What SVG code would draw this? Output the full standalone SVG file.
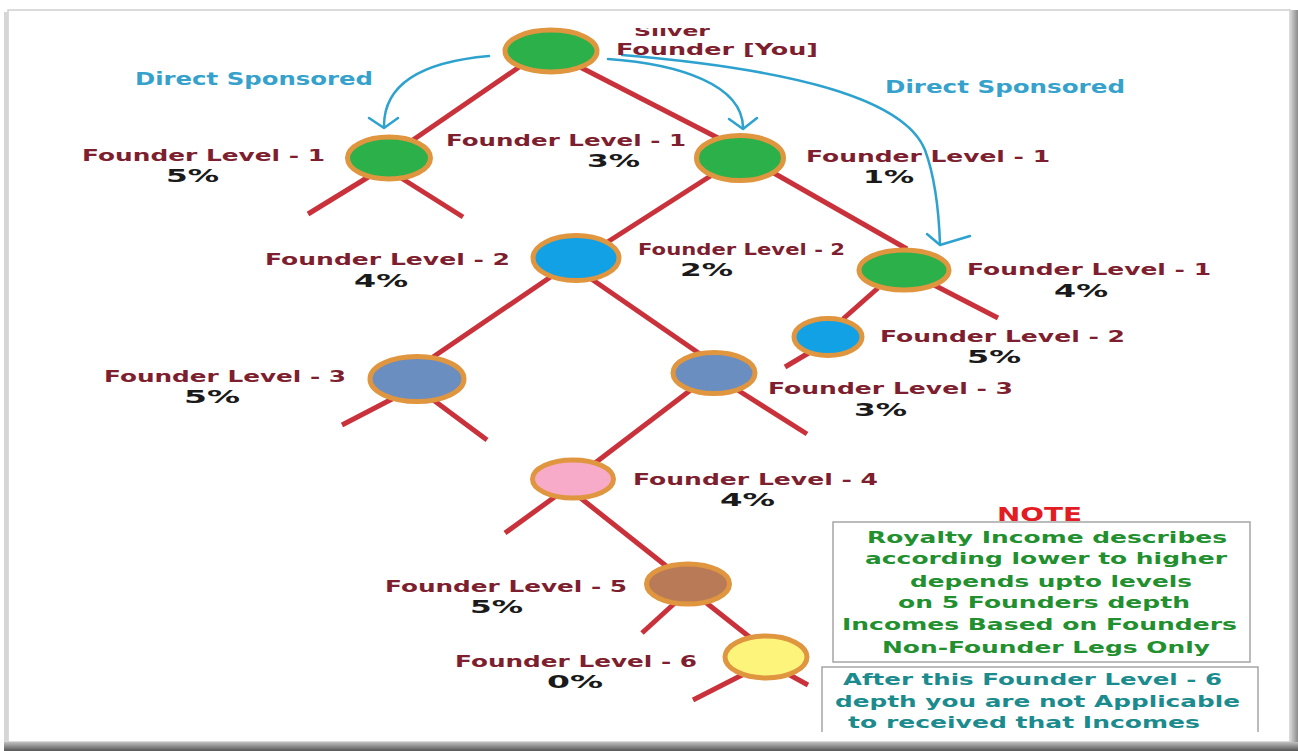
<svg xmlns="http://www.w3.org/2000/svg" width="1298" height="751" viewBox="0 0 1298 751">
<defs>
<style>
text{font-family:"DejaVu Sans",Verdana,sans-serif;font-weight:bold}
.lbl{fill:#7e1f30;font-size:16.5px}
.lbs{fill:#7e1f30;font-size:15px}
.pct{fill:#1a1a1a;font-size:18px}
.ds{fill:#36a2cc;font-size:17px}
.node{stroke:#e0953f;stroke-width:5}
.g{fill:#2bb04a}.b{fill:#12a1e4}.s{fill:#6b8ec1}.p{fill:#f8abc9}.br{fill:#b97b57}.y{fill:#fdf47c}
.edge{stroke:#c9323b;stroke-width:5}
.arr{fill:none;stroke:#2ea2cf;stroke-width:2.5;stroke-linecap:round;stroke-linejoin:round}
.note{fill:#e31b23;font-size:19px}
.n1{fill:#23902f;font-size:15px}
.n2{fill:#1b8b8e;font-size:15px}
.box{fill:none;stroke:#a5a5a5;stroke-width:1.5}
</style>
<linearGradient id="shb" x1="0" y1="0" x2="0" y2="1"><stop offset="0" stop-color="#c0c0c0"/><stop offset="1" stop-color="#555555"/></linearGradient>
<linearGradient id="shr" x1="0" y1="0" x2="1" y2="0"><stop offset="0" stop-color="#d8d8d8"/><stop offset="1" stop-color="#8a8a8a"/></linearGradient>
<clipPath id="cs"><rect x="600" y="28" width="150" height="20"/></clipPath>
</defs>

<g id="frame">
<rect x="0" y="0" width="1298" height="751" fill="#ffffff"/>
<rect x="8" y="10" width="1282" height="732" fill="#ffffff" stroke="#cfcfcf" stroke-width="1.5"/>
<rect x="4" y="12" width="4" height="730" fill="#d6d6d6"/>
<rect x="1290" y="10" width="8" height="735" fill="url(#shr)"/>
<rect x="4" y="742" width="1294" height="9" fill="url(#shb)"/>
</g>

<g id="connectors">
<line class="edge" x1="525" y1="63" x2="410" y2="142"/>
<line class="edge" x1="578" y1="66" x2="722" y2="140"/>
<line class="edge" x1="370" y1="176" x2="308" y2="214"/>
<line class="edge" x1="398" y1="176" x2="463" y2="217"/>
<line class="edge" x1="712" y1="175" x2="606" y2="243"/>
<line class="edge" x1="772" y1="172" x2="907" y2="249"/>
<line class="edge" x1="552" y1="276" x2="433" y2="357"/>
<line class="edge" x1="590" y1="278" x2="700" y2="354"/>
<line class="edge" x1="878" y1="288" x2="843" y2="319"/>
<line class="edge" x1="812" y1="351" x2="785" y2="367"/>
<line class="edge" x1="934" y1="285" x2="998" y2="318"/>
<line class="edge" x1="394" y1="398" x2="342" y2="425"/>
<line class="edge" x1="432" y1="399" x2="487" y2="440"/>
<line class="edge" x1="692" y1="389" x2="595" y2="463"/>
<line class="edge" x1="736" y1="389" x2="807" y2="434"/>
<line class="edge" x1="556" y1="496" x2="505" y2="533"/>
<line class="edge" x1="578" y1="496" x2="670" y2="569"/>
<line class="edge" x1="676" y1="602" x2="642" y2="633"/>
<line class="edge" x1="704" y1="601" x2="752" y2="639"/>
<line class="edge" x1="746" y1="673" x2="693" y2="700"/>
<line class="edge" x1="788" y1="674" x2="808" y2="685"/>
<path class="arr" d="M489,56 C420,62 384,85 384,126"/>
<polyline class="arr" points="369,118 384,128 398,118"/>
<path class="arr" d="M608,59 C680,64 742,85 743,127"/>
<polyline class="arr" points="729,119 743,129 757,118"/>
<path class="arr" d="M622,55 C800,70 905,100 925,150 C936,180 939,215 940,244"/>
<polyline class="arr" points="927,234 940,245 970,236"/>
</g>

<g id="root"><ellipse class="node g" cx="551" cy="51" rx="46" ry="21"/>
<text class="lbl" x="634" y="36" style="font-size:14px" textLength="76" lengthAdjust="spacingAndGlyphs" clip-path="url(#cs)">Silver</text>
<text class="lbl" x="616" y="55" textLength="202" lengthAdjust="spacingAndGlyphs">Founder [You]</text></g>

<g id="ds-left"><text class="ds" x="135" y="85" textLength="238" lengthAdjust="spacingAndGlyphs">Direct Sponsored</text></g>
<g id="ds-right"><text class="ds" x="885" y="93" textLength="240" lengthAdjust="spacingAndGlyphs">Direct Sponsored</text></g>

<g id="l1a"><ellipse class="node g" cx="389" cy="158" rx="41.5" ry="21"/>
<text class="lbl" x="82" y="161" textLength="243" lengthAdjust="spacingAndGlyphs">Founder Level - 1</text>
<text class="pct" x="166" y="182" textLength="53" lengthAdjust="spacingAndGlyphs">5%</text></g>

<g id="l1b"><ellipse class="node g" cx="740" cy="158" rx="43.5" ry="22.5"/>
<text class="lbl" x="446" y="146" textLength="240" lengthAdjust="spacingAndGlyphs">Founder Level - 1</text>
<text class="pct" x="587" y="167" textLength="53" lengthAdjust="spacingAndGlyphs">3%</text>
<text class="lbl" x="806" y="162" textLength="244" lengthAdjust="spacingAndGlyphs">Founder Level - 1</text>
<text class="pct" x="863" y="183" textLength="51" lengthAdjust="spacingAndGlyphs">1%</text></g>

<g id="l2a"><ellipse class="node b" cx="576" cy="258" rx="43" ry="22.5"/>
<text class="lbl" x="265" y="265" textLength="245" lengthAdjust="spacingAndGlyphs">Founder Level - 2</text>
<text class="pct" x="354" y="287" textLength="54" lengthAdjust="spacingAndGlyphs">4%</text>
<text class="lbs" x="638" y="255" textLength="207" lengthAdjust="spacingAndGlyphs">Founder Level - 2</text>
<text class="pct" x="680" y="276" textLength="53" lengthAdjust="spacingAndGlyphs">2%</text></g>

<g id="l1c"><ellipse class="node g" cx="904" cy="270" rx="45" ry="20"/>
<text class="lbl" x="967" y="275" textLength="244" lengthAdjust="spacingAndGlyphs">Founder Level - 1</text>
<text class="pct" x="1054" y="297" textLength="54" lengthAdjust="spacingAndGlyphs">4%</text></g>

<g id="l2b"><ellipse class="node b" cx="828" cy="337" rx="34" ry="18.5"/>
<text class="lbl" x="880" y="342" textLength="245" lengthAdjust="spacingAndGlyphs">Founder Level - 2</text>
<text class="pct" x="967" y="363" textLength="54" lengthAdjust="spacingAndGlyphs">5%</text></g>

<g id="l3a"><ellipse class="node s" cx="417" cy="379" rx="47" ry="22.5"/>
<text class="lbl" x="104" y="382" textLength="242" lengthAdjust="spacingAndGlyphs">Founder Level - 3</text>
<text class="pct" x="184" y="403" textLength="56" lengthAdjust="spacingAndGlyphs">5%</text></g>

<g id="l3b"><ellipse class="node s" cx="714" cy="373" rx="41" ry="20.5"/>
<text class="lbl" x="768" y="394" textLength="245" lengthAdjust="spacingAndGlyphs">Founder Level - 3</text>
<text class="pct" x="854" y="416" textLength="53" lengthAdjust="spacingAndGlyphs">3%</text></g>

<g id="l4"><ellipse class="node p" cx="573" cy="479" rx="40.5" ry="19"/>
<text class="lbl" x="633" y="485" textLength="245" lengthAdjust="spacingAndGlyphs">Founder Level - 4</text>
<text class="pct" x="720" y="506" textLength="55" lengthAdjust="spacingAndGlyphs">4%</text></g>

<g id="l5"><ellipse class="node br" cx="688" cy="584" rx="41.5" ry="20"/>
<text class="lbl" x="385" y="592" textLength="242" lengthAdjust="spacingAndGlyphs">Founder Level - 5</text>
<text class="pct" x="470" y="613" textLength="53" lengthAdjust="spacingAndGlyphs">5%</text></g>

<g id="l6"><ellipse class="node y" cx="766" cy="657" rx="41" ry="21"/>
<text class="lbl" x="455" y="667" textLength="242" lengthAdjust="spacingAndGlyphs">Founder Level - 6</text>
<text class="pct" x="547" y="688" textLength="56" lengthAdjust="spacingAndGlyphs">0%</text></g>

<g id="note">
<text class="note" x="997" y="521" textLength="85" lengthAdjust="spacingAndGlyphs">NOTE</text>
<rect class="box" x="833" y="522" width="417" height="140"/>
<text class="n1" x="867" y="543" textLength="360" lengthAdjust="spacingAndGlyphs">Royalty Income describes</text>
<text class="n1" x="865" y="564" textLength="362" lengthAdjust="spacingAndGlyphs">according lower to higher</text>
<text class="n1" x="910" y="587" textLength="282" lengthAdjust="spacingAndGlyphs">depends upto levels</text>
<text class="n1" x="898" y="608" textLength="292" lengthAdjust="spacingAndGlyphs">on 5 Founders depth</text>
<text class="n1" x="842" y="630" textLength="395" lengthAdjust="spacingAndGlyphs">Incomes Based on Founders</text>
<text class="n1" x="882" y="653" textLength="328" lengthAdjust="spacingAndGlyphs">Non-Founder Legs Only</text>
</g>

<g id="note2">
<path class="box" d="M822,732 V667 H1258 V732"/>
<text class="n2" x="843" y="685" textLength="379" lengthAdjust="spacingAndGlyphs">After this Founder Level - 6</text>
<text class="n2" x="835" y="707" textLength="405" lengthAdjust="spacingAndGlyphs">depth you are not Applicable</text>
<text class="n2" x="848" y="728" textLength="352" lengthAdjust="spacingAndGlyphs">to received that Incomes</text>
</g>
</svg>
